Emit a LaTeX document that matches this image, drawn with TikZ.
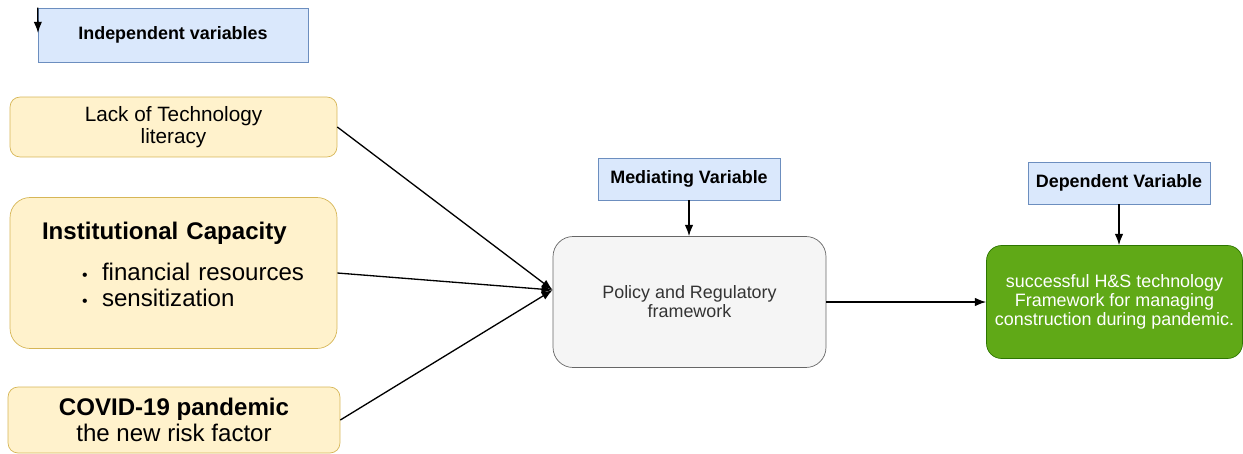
\documentclass[tikz,border=0pt]{standalone}
\usepackage{fontspec}
\setmainfont{Liberation Sans}
\usetikzlibrary{arrows.meta, positioning}
\usepackage{xcolor}
\definecolor{varfill}{HTML}{DAE8FC}
\definecolor{varline}{HTML}{6C8EBF}
\definecolor{factorfill}{HTML}{FFF2CC}
\definecolor{factorline}{HTML}{D6B656}
\definecolor{policyfill}{HTML}{F5F5F5}
\definecolor{policyline}{HTML}{666666}
\definecolor{policytext}{HTML}{333333}
\definecolor{outcomefill}{HTML}{60A917}
\definecolor{outcomeline}{HTML}{2D7600}

\begin{document}
\begin{tikzpicture}[
    x=0.02cm,
    y=-0.02cm,
    >=Latex,
    varbox/.style={rectangle, draw=varline, fill=varfill, align=center, minimum width=3.64cm, minimum height=0.84cm, inner sep=2pt, font=\bfseries\fontsize{10.2}{12}\selectfont},
    factor/.style={rectangle, rounded corners=0.2cm, draw=factorline, fill=factorfill, align=center, minimum width=6.54cm, inner sep=2pt},
    line/.style={-Latex, line width=0.75pt}
]
\useasboundingbox (0,0) rectangle (1243,453);

\node[varbox, minimum width=5.4cm, minimum height=1.08cm] (indep) at (173,35) {Independent variables};
\coordinate (indeptip) at (38,33);

\node[factor, minimum height=1.2cm, font=\fontsize{11.8}{12.5}\selectfont] (literacy) at (173.5,127) {Lack of Technology\\literacy};
\node[factor, rounded corners=0.4cm, minimum height=3.02cm, align=left, text width=5.26cm, inner xsep=0.64cm, font=\fontsize{13.7}{14.7}\selectfont] (capacity) at (173.5,273)
    {\textbf{Institutional Capacity}\\[9.1pt]
     \hspace*{0.8cm}\makebox[0.4cm][l]{\small\textbullet}financial resources\\
     \hspace*{0.8cm}\makebox[0.4cm][l]{\small\textbullet}sensitization\rule[-10pt]{0pt}{10pt}};
\node[factor, minimum width=6.64cm, minimum height=1.32cm, font=\fontsize{13.7}{14.7}\selectfont] (covid) at (174,420) {\textbf{COVID-19 pandemic}\\the new risk factor};

\node[varbox] (mediating) at (689,179) {Mediating Variable};
\node[rectangle, rounded corners=0.4cm, draw=policyline, fill=policyfill, text=policytext, align=center, minimum width=5.46cm, minimum height=2.62cm, font=\fontsize{10.2}{10.8}\selectfont] (policy) at (689.5,302) {Policy and Regulatory\\framework};

\node[varbox] (dependent) at (1119,183) {Dependent Variable};
\node[rectangle, rounded corners=0.3cm, draw=outcomeline, fill=outcomefill, text=white, align=center, minimum width=5.12cm, minimum height=2.26cm, inner sep=1pt, font=\fontsize{10.2}{10.8}\selectfont] (outcome) at (1114.5,302) {successful H\&S technology\\Framework for managing\\construction during pandemic.};

\draw[line] (indep.north west) -- (indeptip);
\draw[line] (literacy.east) -- (policy.175);
\draw[line] (capacity.east) -- (policy.175);
\draw[line] (covid.east) -- (policy.175);
\draw[line] (mediating) -- (mediating |- policy.north);
\draw[line] (dependent) -- (dependent |- outcome.north);
\draw[line] (policy) -- (outcome);
\end{tikzpicture}
\end{document}
